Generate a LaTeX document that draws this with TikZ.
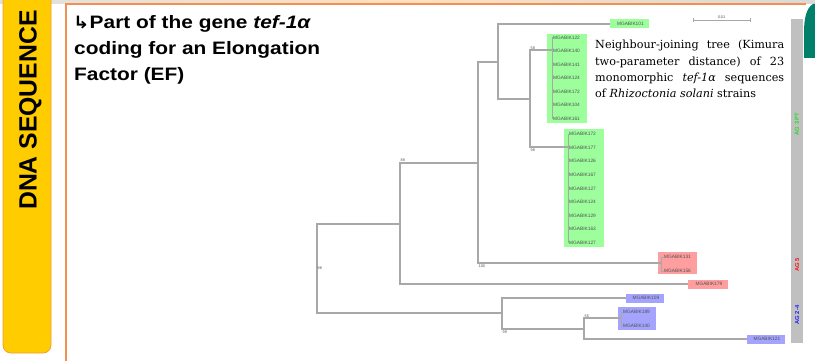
\documentclass[tikz,border=0pt]{standalone}
\usepackage{fontspec}
\setmainfont{Liberation Sans}
\newfontfamily\capfont{DejaVu Serif}
\newfontfamily\symfont{DejaVu Sans}
\definecolor{treegray}{HTML}{A8A8A8}
\definecolor{gbox}{HTML}{9CFF9C}
\definecolor{rbox}{HTML}{FF9E9E}
\definecolor{bbox}{HTML}{A4A4FF}
\definecolor{sidebar}{HTML}{C0C0C0}
\definecolor{ybar}{HTML}{FFCC00}
\definecolor{ybord}{HTML}{F0A030}
\definecolor{panelor}{HTML}{F39050}
\definecolor{tealc}{HTML}{00806A}
\definecolor{leafc}{HTML}{505050}
\definecolor{agg}{HTML}{22DD22}
\definecolor{agr}{HTML}{FF1010}
\definecolor{agb}{HTML}{2020FF}
\tikzset{
  br/.style={draw=treegray, line width=1.3pt},
  leaf/.style={font=\fontsize{4.8}{5}\selectfont, text=leafc, inner sep=0pt, anchor=west},
  leafbox/.style={font=\fontsize{4.8}{5}\selectfont, text=leafc, inner sep=0pt, minimum width=39pt, minimum height=9pt, anchor=west},
  boot/.style={font=\fontsize{3.8}{4}\selectfont, text=leafc, inner sep=0.5pt},
  title/.style={font=\bfseries\fontsize{18}{21}\selectfont, anchor=base west, inner sep=0pt},
  aglab/.style={font=\bfseries\fontsize{5.8}{6}\selectfont, rotate=90, inner sep=0pt},
}
\begin{document}
\begin{tikzpicture}[x=1pt,y=-1pt]
\useasboundingbox (0,0) rectangle (815,361);
\clip (0,0) rectangle (815,361);
% background
\fill[white] (0,0) rectangle (815,361);
\shade[left color=black!12, right color=orange!25] (0,0) rectangle (400,4);
\shade[left color=orange!25, right color=black!15] (400,0) rectangle (815,4);
% yellow side bar
\draw[fill=ybar, draw=ybord, line width=0.8pt, rounded corners=8pt] (3,-12) rectangle (51,353);
\node[font=\bfseries\fontsize{25}{25}\selectfont, rotate=90, anchor=base west, inner sep=0pt] (side) at (36.5,210) {\scalebox{0.99}[1]{DNA SEQUENCE}};
% panel
\fill[white] (66,4) rectangle (815,361);
\draw[panelor, line width=1.3pt] (66,365) -- (66,4) -- (806,4);
\fill[tealc] (815,4) -- (813,4) .. controls (806,8) and (804,20) .. (804,32) -- (804,58) -- (815,58) -- cycle;
% title
\node[title] (t1) at (73,29) {\scalebox{1.16}[1]{{\symfont\fontsize{17}{17}\selectfont ↳}Part of the gene \textit{tef-1α}}};
\node[title] (t2) at (74,55) {\scalebox{1.16}[1]{coding for an Elongation}};
\node[title] (t3) at (74,81) {\scalebox{1.16}[1]{Factor (EF)}};
% caption
\node[anchor=north west, inner sep=0pt, text width=189pt, align=justify, font=\capfont\fontsize{11.2}{16.4}\selectfont] (cap) at (595,40)
 {\hyphenpenalty=10000 Neighbour-joining tree (Kimura\linebreak two-parameter distance) of 23\linebreak monomorphic \textit{tef-1α} sequences\linebreak of \textit{Rhizoctonia solani} strains};
% scale bar
\coordinate (sb1) at (693,20);
\coordinate (sb2) at (750,20);
\draw[treegray, line width=0.9pt] (sb1) -- (sb2);
\draw[treegray, line width=0.9pt] ([yshift=-2]sb1) -- ([yshift=2]sb1);
\draw[treegray, line width=0.9pt] ([yshift=-2]sb2) -- ([yshift=2]sb2);
\node[boot, anchor=south] (sbl) at (721.5,19) {0.01};
% side bar
\fill[sidebar] (791,19) rectangle (803,343);
\node[aglab, text=agg] (ag3) at (797,124) {AG 3 PT};
\node[aglab, text=agr] (ag5) at (797,265) {AG 5};
\node[aglab, text=agb] (ag24) at (797,315) {AG 2-4};
% boxes
\node[fill=gbox, minimum width=40pt, minimum height=89pt, inner sep=0pt, anchor=north west] (c1box) at (547,34) {};
\node[fill=gbox, minimum width=40pt, minimum height=118pt, inner sep=0pt, anchor=north west] (c2box) at (564,129) {};
\node[fill=rbox, minimum width=39pt, minimum height=22pt, inner sep=0pt, anchor=north west] (r1box) at (658,252) {};
\node[fill=bbox, minimum width=38pt, minimum height=23pt, inner sep=0pt, anchor=north west] (b2box) at (618,307) {};
% internal nodes
\coordinate (R) at (317,268);
\coordinate (A) at (400,224);
\coordinate (C) at (478,163);
\coordinate (D) at (498,62);
\coordinate (F) at (530,99);
\coordinate (G1) at (552,50);
\coordinate (G2) at (568,147);
\coordinate (E) at (661,263);
\coordinate (B) at (502,313);
\coordinate (H) at (584,329);
\coordinate (I) at (621,318);
% single leaves
\node[leafbox, fill=gbox] (L1) at (610,24) {\ MGABIK101};
\node[leafbox, fill=rbox, minimum width=40pt] (L2) at (688,284) {\ MGABIK179};
\node[leafbox, fill=bbox, minimum width=38pt] (L3) at (626,298) {\ MGABIK109};
\node[leafbox, fill=bbox, minimum width=38pt] (L4) at (747,339) {\ MGABIK121};
% cluster leaves
\foreach \i/\t in {0/122,1/140,2/141,3/124,4/172,5/104,6/161}{
  \node[leaf] (c1l\i) at (553,{37.5+13.5*\i}) {MGABIK\t};
  \draw[treegray, line width=0.8pt] (552,{37.5+13.5*\i}) -- (c1l\i.west);
}
\foreach \i/\t in {0/172,1/177,2/126,3/167,4/127,5/124,6/129,7/163,8/127}{
  \node[leaf] (c2l\i) at (569,{134+13.6*\i}) {MGABIK\t};
  \draw[treegray, line width=0.8pt] (568,{134+13.6*\i}) -- (c2l\i.west);
}
\node[leaf] (e1) at (664,257) {MGABIK131};
\node[leaf] (e2) at (664,271) {MGABIK156};
\node[leaf] (i1) at (623,312) {MGABIK189};
\node[leaf] (i2) at (623,326) {MGABIK140};
% branches
\draw[br] (R) |- (A);
\draw[br] (R) |- (B);
\draw[br] (A) |- (C);
\draw[br] (A) |- (L2.west);
\draw[br] (C) |- (D);
\draw[br] (C) |- (E);
\draw[br] (D) |- (L1.west);
\draw[br] (D) |- (F);
\draw[br] (F) |- (G1);
\draw[br] (F) |- (G2);
\draw[br] (B) |- (L3.west);
\draw[br] (B) |- (H);
\draw[br] (H) |- (I);
\draw[br] (H) |- (L4.west);
\draw[treegray, line width=1pt] (552,37.5) -- (552,118.5);
\draw[treegray, line width=1pt] (568,134) -- (568,242.8);
\draw[treegray, line width=1pt] (E) |- (e1.west);
\draw[treegray, line width=1pt] (E) |- (e2.west);
\draw[treegray, line width=1pt] (I) |- (i1.west);
\draw[treegray, line width=1pt] (I) |- (i2.west);
% bootstrap values
\node[boot, anchor=south west] (bs1) at (530,50) {58};
\node[boot, anchor=north west] (bs2) at (530,148) {98};
\node[boot, anchor=south west] (bs3) at (400,162) {88};
\node[boot, anchor=north west] (bs4) at (478,264) {100};
\node[boot, anchor=west] (bs5) at (317,268) {98};
\node[boot, anchor=north west] (bs6) at (502,330) {99};
\node[boot, anchor=south west] (bs7) at (584,318) {55};
\end{tikzpicture}
\end{document}
